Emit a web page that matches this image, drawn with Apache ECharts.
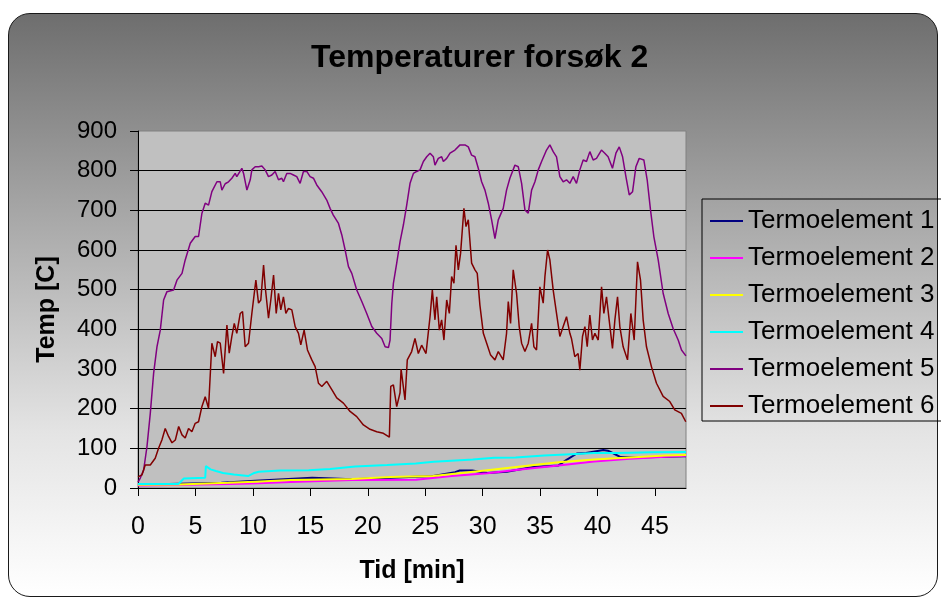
<!DOCTYPE html>
<html>
<head>
<meta charset="utf-8">
<script src="https://cdn.jsdelivr.net/npm/echarts@6/dist/echarts.min.js"></script>
<style>
  html, body { margin: 0; padding: 0; background: #ffffff; }
  #wrap { position: relative; width: 941px; height: 599px; overflow: hidden; }
  #frame {
    position: absolute; left: 8px; top: 13px; width: 930px; height: 584px;
    box-sizing: border-box; border: 1.5px solid #1a1a1a; border-radius: 22px;
    background: linear-gradient(to bottom, #6e6e6e 0%, #a8a8a8 35%, #e4e4e4 72%, #ffffff 100%);
  }
  #chart { position: absolute; left: 0; top: 0; width: 941px; height: 599px; }
</style>
</head>
<body>
<div id="wrap">
  <div id="frame"></div>
  <div id="chart"></div>
</div>
<script>
// Series names
const seriesNames = ['Termoelement 1', 'Termoelement 2', 'Termoelement 3',
                     'Termoelement 4', 'Termoelement 5', 'Termoelement 6'];
const seriesColors = ['#000080', '#ff00ff', '#ffff00', '#00ffff', '#800080', '#800000'];

// Axis ticks
const xTicks = [0, 5, 10, 15, 20, 25, 30, 35, 40, 45];
const yTicks = [0, 100, 200, 300, 400, 500, 600, 700, 800, 900];

// Termoelement 1 (time [min], temp [C])
const t1Time = [0, 7.25, 10.2, 12.68, 15.16, 17.0, 18.6, 22.0, 25.7, 27.6, 28.0, 29.1, 30.4, 32.1, 34.4, 36.6, 37.3, 38.2, 39.0, 40.5, 40.9, 41.4, 42.0, 43.4, 45.9, 47.7];
const t1Temp = [8, 13, 18, 22, 26, 24, 22, 26, 30, 40, 44, 44, 38, 41, 53, 57, 71, 87, 88, 96, 94, 87, 78, 77, 79, 80];

// Termoelement 2
const t2Time = [0, 8.03, 10.5, 13.3, 18.6, 24.2, 27.3, 30.4, 33.5, 36.6, 39.7, 42.8, 45.9, 47.7];
const t2Temp = [6, 10, 12, 15, 20, 21, 30, 37, 47, 57, 67, 74, 79, 81];

// Termoelement 3
const t3Time = [0, 3.52, 7.87, 10.2, 13.3, 18.6, 22.0, 25.7, 30.4, 33.5, 36.6, 39.7, 42.8, 45.9, 47.7];
const t3Temp = [8, 9, 13, 16, 20, 23, 28, 30, 45, 55, 65, 72, 77, 82, 83];

// Termoelement 4
const t4Time = [0, 3.52, 3.99, 5.85, 5.91, 6.32, 6.78, 7.4, 8.34, 9.58, 10.04, 10.51, 12.37, 14.86, 16.72, 18.9, 21.69, 24.18, 25.73, 27.28, 29.14, 31.0, 32.87, 35.35, 38.15, 39.7, 41.57, 42.81, 44.67, 47.7];
const t4Temp = [10, 10, 24, 26, 55, 47, 43, 38, 34, 30, 37, 41, 44, 45, 48, 54, 58, 62, 66, 69, 72, 76, 77, 82, 86, 88, 88, 89, 90, 91];

// Termoelement 5
const t5Time = [0, 0.2, 0.49, 0.78, 1.07, 1.36, 1.65, 1.94, 2.23, 2.52, 3.1, 3.39, 3.83, 4.11, 4.55, 4.98, 5.27, 5.56, 5.85, 6.14, 6.43, 6.87, 7.16, 7.3, 7.59, 7.88, 8.17, 8.46, 8.6, 9.04, 9.19, 9.48, 9.77, 9.91, 10.2, 10.5, 10.78, 11.07, 11.36, 11.65, 11.94, 12.23, 12.52, 12.66, 12.95, 13.24, 13.53, 13.82, 14.11, 14.4, 14.69, 14.98, 15.27, 15.56, 15.99, 16.43, 16.72, 17.0, 17.45, 17.74, 18.03, 18.32, 18.61, 19.04, 19.48, 19.91, 20.35, 20.78, 21.22, 21.51, 21.8, 21.94, 22.09, 22.23, 22.52, 22.81, 23.1, 23.39, 23.68, 23.97, 24.26, 24.55, 24.84, 25.13, 25.42, 25.71, 25.85, 26.14, 26.43, 26.58, 26.87, 27.16, 27.59, 28.03, 28.46, 28.75, 29.04, 29.33, 29.62, 29.91, 30.2, 30.49, 30.78, 31.07, 31.36, 31.79, 32.08, 32.37, 32.81, 33.1, 33.39, 33.68, 33.97, 34.26, 34.55, 34.84, 35.13, 35.56, 35.85, 36.14, 36.43, 36.72, 37.01, 37.3, 37.59, 37.88, 38.17, 38.46, 38.75, 39.04, 39.33, 39.62, 39.91, 40.34, 40.63, 40.92, 41.3, 41.6, 41.89, 42.18, 42.47, 42.76, 43.05, 43.34, 43.63, 44.03, 44.32, 44.61, 44.9, 45.28, 45.71, 46.15, 46.58, 47.02, 47.31, 47.69];
const t5Temp = [15, 25, 45, 104, 188, 289, 356, 398, 474, 495, 499, 524, 541, 575, 617, 634, 634, 692, 718, 713, 747, 772, 772, 751, 767, 772, 781, 793, 785, 806, 793, 751, 777, 802, 810, 810, 812, 802, 785, 789, 798, 777, 781, 772, 793, 793, 789, 785, 768, 798, 798, 785, 781, 764, 747, 726, 705, 688, 667, 638, 600, 558, 541, 499, 470, 440, 407, 390, 377, 356, 354, 373, 465, 516, 567, 621, 663, 713, 768, 793, 798, 802, 823, 835, 844, 835, 814, 831, 835, 823, 831, 844, 852, 865, 865, 860, 839, 835, 806, 772, 751, 718, 676, 629, 676, 705, 751, 781, 814, 810, 768, 701, 693, 751, 772, 802, 823, 852, 865, 848, 835, 785, 772, 777, 768, 785, 768, 802, 827, 823, 848, 827, 831, 852, 844, 835, 806, 844, 860, 835, 785, 739, 747, 810, 831, 827, 777, 701, 634, 575, 491, 440, 402, 373, 348, 333];

// Termoelement 6
const t6Time = [0, 0.34, 0.63, 1.07, 1.5, 1.79, 2.08, 2.37, 2.66, 2.96, 3.25, 3.54, 3.83, 4.11, 4.4, 4.69, 4.98, 5.27, 5.56, 5.85, 6.14, 6.28, 6.43, 6.72, 6.92, 7.16, 7.45, 7.74, 7.94, 8.17, 8.38, 8.6, 8.9, 9.1, 9.33, 9.62, 9.91, 10.26, 10.49, 10.69, 10.93, 11.07, 11.36, 11.56, 11.8, 12.03, 12.23, 12.43, 12.66, 12.87, 13.1, 13.39, 13.68, 13.97, 14.17, 14.46, 14.75, 15.13, 15.42, 15.71, 16.0, 16.43, 16.87, 17.3, 17.88, 18.46, 19.04, 19.62, 20.2, 20.78, 21.36, 21.88, 22.0, 22.23, 22.52, 22.81, 22.9, 23.24, 23.44, 23.82, 24.11, 24.4, 24.69, 25.07, 25.42, 25.62, 25.85, 26.0, 26.23, 26.43, 26.63, 26.87, 27.1, 27.3, 27.5, 27.68, 27.88, 28.08, 28.37, 28.55, 28.75, 29.04, 29.33, 29.53, 29.76, 30.06, 30.35, 30.69, 31.07, 31.36, 31.79, 32.08, 32.23, 32.43, 32.66, 32.95, 33.18, 33.39, 33.68, 33.97, 34.26, 34.46, 34.69, 34.98, 35.27, 35.42, 35.65, 35.85, 36.14, 36.43, 36.72, 37.01, 37.3, 37.59, 37.73, 38.02, 38.31, 38.46, 38.69, 38.9, 39.1, 39.33, 39.56, 39.77, 40.06, 40.35, 40.55, 40.78, 41.01, 41.3, 41.51, 41.74, 41.94, 42.23, 42.61, 42.9, 43.19, 43.48, 43.74, 43.97, 44.26, 44.69, 45.13, 45.71, 46.29, 46.72, 47.3, 47.68];
const t6Temp = [28, 33, 58, 58, 75, 100, 121, 150, 130, 114, 121, 155, 134, 126, 150, 142, 163, 167, 205, 230, 201, 201, 365, 331, 369, 365, 289, 411, 340, 382, 415, 390, 440, 445, 356, 365, 440, 524, 466, 474, 562, 508, 428, 474, 537, 440, 491, 449, 482, 440, 453, 449, 407, 390, 361, 398, 348, 323, 306, 264, 256, 269, 248, 227, 214, 193, 180, 159, 148, 142, 138, 128, 256, 260, 205, 240, 300, 222, 323, 344, 377, 339, 360, 339, 432, 499, 424, 482, 398, 424, 373, 474, 440, 533, 516, 612, 550, 592, 705, 659, 676, 567, 550, 541, 461, 390, 365, 335, 323, 344, 323, 390, 470, 415, 550, 491, 407, 365, 344, 365, 415, 356, 348, 507, 466, 533, 600, 575, 499, 440, 382, 407, 432, 390, 377, 331, 339, 297, 382, 407, 356, 436, 373, 390, 373, 507, 440, 482, 424, 352, 424, 482, 407, 356, 323, 440, 373, 570, 524, 424, 356, 306, 264, 231, 218, 197, 188, 167];

const FONT = "'Liberation Sans', Arial, sans-serif";

function pairs(times, temps) {
  return times.map((t, i) => [t, temps[i]]);
}

const seriesData = [
  pairs(t1Time, t1Temp), pairs(t2Time, t2Temp), pairs(t3Time, t3Temp),
  pairs(t4Time, t4Temp), pairs(t5Time, t5Temp), pairs(t6Time, t6Temp)
];
const lineWidths = [2, 2, 2, 2, 1.5, 1.5];

const chart = echarts.init(document.getElementById('chart'), null, { renderer: 'canvas' });

chart.setOption({
  animation: false,
  backgroundColor: 'transparent',
  color: seriesColors,
  title: {
    text: 'Temperaturer forsøk 2',
    left: 311, top: 42, padding: 0,
    textStyle: { fontFamily: FONT, fontWeight: 'bold', fontSize: 32, color: '#000' }
  },
  legend: {
    orient: 'vertical',
    left: 702, top: 199,
    padding: [9, 60, 2, 8],
    itemGap: 11, itemWidth: 33, itemHeight: 2,
    icon: 'rect',
    borderColor: '#000', borderWidth: 1,
    textStyle: { fontFamily: FONT, fontSize: 26, color: '#000' },
    data: seriesNames
  },
  grid: {
    left: 138, top: 131, width: 548, height: 357,
    show: true, backgroundColor: '#c0c0c0',
    borderColor: '#808080', borderWidth: 1
  },
  xAxis: {
    type: 'value', min: 0, max: 47.7, interval: 5,
    name: 'Tid [min]', nameLocation: 'middle', nameGap: 71,
    nameTextStyle: { fontFamily: FONT, fontWeight: 'bold', fontSize: 25, color: '#000' },
    axisLine: { show: true, onZero: false, lineStyle: { color: '#000', width: 1 } },
    axisTick: { show: true, length: 8, customValues: xTicks, lineStyle: { color: '#000' } },
    axisLabel: { customValues: xTicks, margin: 27, fontFamily: FONT, fontSize: 25, color: '#000' },
    splitLine: { show: false }
  },
  yAxis: {
    type: 'value', min: 0, max: 900, interval: 100,
    name: 'Temp [C]', nameLocation: 'middle', nameGap: 78,
    nameTextStyle: { fontFamily: FONT, fontWeight: 'bold', fontSize: 25, color: '#000' },
    axisLine: { show: true, lineStyle: { color: '#000', width: 1 } },
    axisTick: { show: true, length: 8, customValues: yTicks, lineStyle: { color: '#000' } },
    axisLabel: { customValues: yTicks, margin: 21, fontFamily: FONT, fontSize: 24, color: '#000' },
    splitLine: { show: true, showMaxLine: false, lineStyle: { color: '#000', width: 1 } }
  },
  series: seriesNames.map((name, i) => ({
    name: name,
    type: 'line',
    data: seriesData[i],
    symbol: 'none',
    showSymbol: false,
    clip: true,
    lineStyle: { width: lineWidths[i], color: seriesColors[i] },
    itemStyle: { color: seriesColors[i] }
  }))
});
</script>
</body>
</html>
